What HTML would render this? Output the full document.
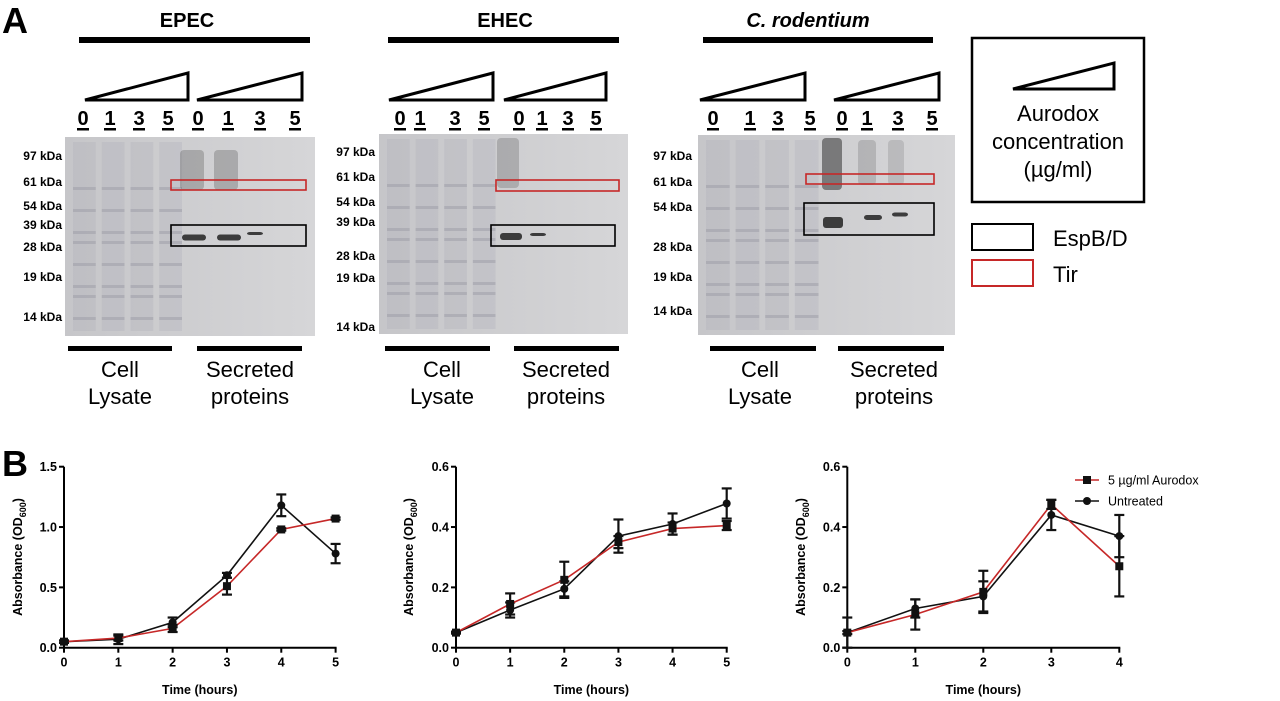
<!DOCTYPE html>
<html><head><meta charset="utf-8"><style>
html,body{margin:0;padding:0;background:#fff;}
svg{display:block;font-family:"Liberation Sans",Arial,sans-serif;}
.b{font-weight:bold;}
</style></head><body>
<svg id="fig" width="1280" height="701" viewBox="0 0 1280 701" xmlns="http://www.w3.org/2000/svg">
<defs>
<linearGradient id="gelg" x1="0" x2="1" y1="0" y2="0"><stop offset="0" stop-color="#c6c6c9"/><stop offset="1" stop-color="#d6d6d8"/></linearGradient>
</defs>
<text x="2" y="33" class="b" font-size="36">A</text>
<text x="2" y="476" class="b" font-size="36">B</text>
<g id="gels"></g>
<g>
<rect x="972" y="38" width="172" height="164" fill="none" stroke="#000" stroke-width="2.5"/>
<polygon points="1013,89 1114,63 1114,89" fill="none" stroke="#000" stroke-width="3"/>
<text x="1058" y="121" text-anchor="middle" font-size="22">Aurodox</text>
<text x="1058" y="149" text-anchor="middle" font-size="22">concentration</text>
<text x="1058" y="177" text-anchor="middle" font-size="22">(µg/ml)</text>
<rect x="972" y="224" width="61" height="26" fill="none" stroke="#000" stroke-width="2"/>
<text x="1053" y="246" font-size="22">EspB/D</text>
<rect x="972" y="260" width="61" height="26" fill="none" stroke="#c62828" stroke-width="2"/>
<text x="1053" y="282" font-size="22">Tir</text>
</g>
<g id="charts"></g>
<g>
<line x1="1075" y1="480" x2="1099" y2="480" stroke="#c62828" stroke-width="1.6"/>
<rect x="1083" y="476" width="8" height="8" fill="#111"/>
<text x="1108" y="484.5" font-size="12.5">5 µg/ml Aurodox</text>
<line x1="1075" y1="501" x2="1099" y2="501" stroke="#111" stroke-width="1.6"/>
<circle cx="1087" cy="501" r="4" fill="#111"/>
<text x="1108" y="505.5" font-size="12.5">Untreated</text>
</g>
</svg>
<script>
const NS="http://www.w3.org/2000/svg";
function mk(parent,tag,attrs,text){const e=document.createElementNS(NS,tag);for(const k in attrs)e.setAttribute(k,attrs[k]);if(text!==undefined)e.textContent=text;parent.appendChild(e);return e;}

// ---------------- Gel panels ----------------
const gelTitles=["EPEC","EHEC","C. rodentium"];
const laneLabels=["0","1","3","5","0","1","3","5"];
const kdaLabels=["97 kDa","61 kDa","54 kDa","39 kDa","28 kDa","19 kDa","14 kDa"];
const gelSpecs=[
 {x:65,w:250,y:137,h:199,tx:187,bar:[79,310],tri:[[85,188],[197,302]],nums:[83,110,139,168,198,228,260,295],kx:62,ky:[156,182,206,225,247,277,317],red:[171,180,135,10],blk:[171,225,135,21],bl:[[68,172],[197,302]],cl:120,sp:250,bands:[[182,237,24,5],[217,237,24,5],[247,233,16,2]],smears:[[180,150,24,40,0.25],[214,150,24,40,0.25]]},
 {x:379,w:249,y:134,h:200,tx:505,bar:[388,619],tri:[[389,493],[504,606]],nums:[400,420,455,484,519,542,568,596],kx:375,ky:[152,177,202,222,256,278,327],red:[496,180,123,11],blk:[491,225,124,21],bl:[[385,490],[514,619]],cl:442,sp:566,bands:[[500,236,22,6],[530,234,16,2]],smears:[[497,138,22,50,0.22]]},
 {x:698,w:257,y:135,h:200,tx:808,bar:[703,933],tri:[[700,805],[834,939]],nums:[713,750,778,810,842,867,898,932],kx:692,ky:[156,182,207,0,247,277,311],red:[806,174,128,10],blk:[804,203,130,32],bl:[[710,816],[838,944]],cl:760,sp:894,bands:[[823,222,20,10],[864,217,18,4],[892,214,16,3]],smears:[[822,138,20,52,0.55],[858,140,18,45,0.18],[888,140,16,45,0.15]]}
];
const gels=document.getElementById('gels');
gelSpecs.forEach((s,gi)=>{
 const g=mk(gels,'g',{});
 
 
 const t=mk(g,'text',{x:s.tx,y:27,'text-anchor':'middle','font-size':20,'font-weight':'bold','font-style':gi==2?'italic':'normal'},gelTitles[gi]);
 
 
 mk(g,'rect',{x:s.bar[0],y:37,width:s.bar[1]-s.bar[0],height:6,fill:'#000'});
 s.tri.forEach(tr=>mk(g,'polygon',{points:`${tr[0]},100 ${tr[1]},73 ${tr[1]},100`,fill:'none',stroke:'#000','stroke-width':3}));
 s.nums.forEach((nx,i)=>{mk(g,'text',{x:nx,y:125,'text-anchor':'middle','font-size':20,'font-weight':'bold'},laneLabels[i]);mk(g,'rect',{x:nx-6,y:128,width:12,height:2.5,fill:'#000'});});
 mk(g,'rect',{x:s.x,y:s.y,width:s.w,height:s.h,fill:'url(#gelg)'});
 for(let i=0;i<4;i++){const lw=(s.w*0.5-10)/4;const lx=s.x+8+i*lw;
  mk(g,'rect',{x:lx,y:s.y+5,width:lw-6,height:s.h-10,fill:'#a8a8b2',opacity:0.25});
  for(let k=0;k<8;k++){mk(g,'rect',{x:lx,y:s.y+50+k*18+(k%3)*4,width:lw-6,height:3,fill:'#9c9ca6',opacity:0.5});}}
 s.smears.forEach(m=>mk(g,'rect',{x:m[0],y:m[1],width:m[2],height:m[3],rx:4,fill:'#333',opacity:m[4]}));
 s.bands.forEach(b=>mk(g,'rect',{x:b[0],y:b[1]-b[3]/2,width:b[2],height:b[3]+1,rx:3,fill:'#222',opacity:0.85}));
 s.ky.forEach((ky,i)=>{if(ky)mk(g,'text',{x:s.kx,y:ky+4,'text-anchor':'end','font-size':12,'font-weight':'bold'},kdaLabels[i]);});
 mk(g,'rect',{x:s.red[0],y:s.red[1],width:s.red[2],height:s.red[3],fill:'none',stroke:'#c62828','stroke-width':1.6});
 mk(g,'rect',{x:s.blk[0],y:s.blk[1],width:s.blk[2],height:s.blk[3],fill:'none',stroke:'#000','stroke-width':1.6});
 s.bl.forEach(b=>mk(g,'rect',{x:b[0],y:346,width:b[1]-b[0],height:5,fill:'#000'}));
 mk(g,'text',{x:s.cl,y:377,'text-anchor':'middle','font-size':22},'Cell');
 mk(g,'text',{x:s.cl,y:404,'text-anchor':'middle','font-size':22},'Lysate');
 mk(g,'text',{x:s.sp,y:377,'text-anchor':'middle','font-size':22},'Secreted');
 mk(g,'text',{x:s.sp,y:404,'text-anchor':'middle','font-size':22},'proteins');
});

// ---------------- Growth charts data ----------------
const epecHours=[0,1,2,3,4,5];
const epecAurodox=[0.05,0.08,0.16,0.51,0.98,1.07];
const epecAurodoxErr=[0.01,0.02,0.03,0.07,0.01,0.01];
const epecUntreated=[0.05,0.07,0.21,0.60,1.18,0.78];
const epecUntreatedErr=[0.01,0.04,0.04,0.02,0.09,0.08];
const ehecHours=[0,1,2,3,4,5];
const ehecAurodox=[0.05,0.145,0.225,0.35,0.395,0.405];
const ehecAurodoxErr=[0.003,0.035,0.06,0.02,0.02,0.015];
const ehecUntreated=[0.05,0.125,0.195,0.37,0.41,0.478];
const ehecUntreatedErr=[0.003,0.025,0.025,0.055,0.035,0.05];
const croHours=[0,1,2,3,4];
const croAurodox=[0.05,0.11,0.185,0.475,0.27];
const croAurodoxErr=[0.05,0.05,0.07,0.015,0.10];
const croUntreated=[0.05,0.13,0.17,0.44,0.37];
const croUntreatedErr=[0.005,0.03,0.05,0.05,0.07];
const epecYTicks=["0.0","0.5","1.0","1.5"];
const smallYTicks=["0.0","0.2","0.4","0.6"];

const chartDefs=[
 {name:'epec',x0:64,x1:335.6,xmax:5,ymax:1.5,yt:epecYTicks,hours:epecHours,a:epecAurodox,ae:epecAurodoxErr,u:epecUntreated,ue:epecUntreatedErr,ytx:22},
 {name:'ehec',x0:456,x1:726.7,xmax:5,ymax:0.6,yt:smallYTicks,hours:ehecHours,a:ehecAurodox,ae:ehecAurodoxErr,u:ehecUntreated,ue:ehecUntreatedErr,ytx:413},
 {name:'crodentium',x0:847.3,x1:1119.3,xmax:4,ymax:0.6,yt:smallYTicks,hours:croHours,a:croAurodox,ae:croAurodoxErr,u:croUntreated,ue:croUntreatedErr,ytx:805}
];
const Y0=647.7,Y1=466.7;
const charts=document.getElementById('charts');
chartDefs.forEach(c=>{
 const g=mk(charts,'g',{});
 
 
 const sx=v=>c.x0+(c.x1-c.x0)*v/c.xmax;
 const sy=v=>Y0-(Y0-Y1)*v/c.ymax;
 mk(g,'line',{x1:c.x0,y1:Y1,x2:c.x0,y2:Y0+1,stroke:'#000','stroke-width':2});
 mk(g,'line',{x1:c.x0-1,y1:Y0,x2:c.x1+1,y2:Y0,stroke:'#000','stroke-width':2});
 c.yt.forEach((lab,i)=>{const v=c.ymax*i/(c.yt.length-1);const y=sy(v);
  mk(g,'line',{x1:c.x0-5,y1:y,x2:c.x0,y2:y,stroke:'#000','stroke-width':2});
  const t=mk(g,'text',{x:c.x0-7,y:y+4.5,'text-anchor':'end','font-size':12.5,'font-weight':'bold'},lab);
  
  });
 for(let h=0;h<=c.xmax;h++){const x=sx(h);
  mk(g,'line',{x1:x,y1:Y0,x2:x,y2:Y0+5,stroke:'#000','stroke-width':2});
  const t=mk(g,'text',{x:x,y:Y0+19,'text-anchor':'middle','font-size':12.5,'font-weight':'bold'},String(h));
  
  }
 const xt=mk(g,'text',{x:(c.x0+c.x1)/2,y:694,'text-anchor':'middle','font-size':12.5,'font-weight':'bold'},'Time (hours)');
 
 
 const cy=557;
 const yt=mk(g,'text',{x:c.ytx,y:cy,'text-anchor':'middle','font-size':12.5,'font-weight':'bold',transform:`rotate(-90 ${c.ytx} ${cy})`});
 
 
 yt.appendChild(document.createTextNode('Absorbance (OD'));
 mk(yt,'tspan',{'font-size':9,dy:4},'600');
 mk(yt,'tspan',{dy:-4},')');
 [['untreated',c.u,c.ue,'#111'],['aurodox',c.a,c.ae,'#c62828']].forEach(([nm,vals,errs,col])=>{
  const sg=mk(g,'g',{});
  
  
  mk(sg,'polyline',{points:vals.map((v,i)=>sx(c.hours[i])+','+sy(v)).join(' '),fill:'none',stroke:col,'stroke-width':1.6});
  vals.forEach((v,i)=>{const x=sx(c.hours[i]);const e=errs[i];
   mk(sg,'line',{x1:x,y1:sy(v-e),x2:x,y2:sy(v+e),stroke:'#111','stroke-width':2.2});
   mk(sg,'line',{x1:x-5,y1:sy(v+e),x2:x+5,y2:sy(v+e),stroke:'#111','stroke-width':2.2});
   mk(sg,'line',{x1:x-5,y1:sy(v-e),x2:x+5,y2:sy(v-e),stroke:'#111','stroke-width':2.2});
   let m;
   if(nm==='aurodox')m=mk(sg,'rect',{x:x-4,y:sy(v)-4,width:8,height:8,fill:'#111'});
   else m=mk(sg,'circle',{cx:x,cy:sy(v),r:4,fill:'#111'});
   
   
  });
 });
});
</script>
</body></html>
